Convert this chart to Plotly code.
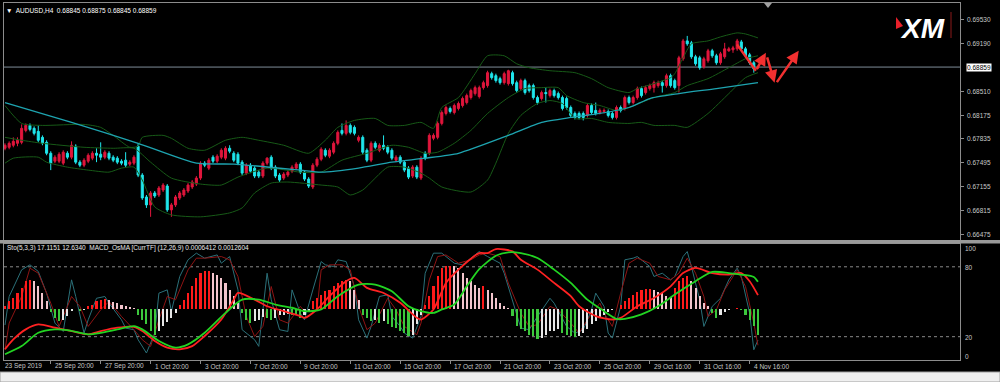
import plotly.graph_objects as go

# ---------------- DATA (AUDUSD, H4) ----------------
# quotes in points (1e-5)
OPEN_PTS = [67702,67716,67745,67773,67787,67957,68028,67986,67943,67858,
67787,67631,67518,67518,67490,67631,67575,67731,67504,67461,
67518,67561,67631,67617,67575,67631,67575,67561,67518,67532,
67476,67490,67731,67320,67008,66895,67065,67036,67107,67164,
66824,66895,66994,67036,67093,67150,67192,67277,67490,67419,
67575,67518,67575,67561,67702,67631,67617,67504,67348,67461,
67419,67362,67306,67490,67575,67433,67320,67277,67320,67376,
67419,67476,67362,67263,67150,67461,67546,67674,67589,67646,
67773,67957,67915,68028,68000,67816,67858,67674,67532,67773,
67674,67745,67716,67674,67532,67575,67504,67419,67306,67433,
67277,67631,67631,67844,67858,68056,68198,68269,68212,68269,
68311,68354,68425,68481,68439,68566,68595,68765,68736,68694,
68637,68623,68779,68637,68552,68666,68595,68595,68425,68411,
68496,68453,68524,68481,68425,68411,68283,68198,68198,68198,
68170,68311,68241,68212,68226,68226,68198,68141,68283,68269,
68425,68354,68425,68552,68496,68552,68566,68595,68637,68595,
68736,68666,68595,68977,69232,69204,69006,68991,68864,68949,
69091,69020,68921,69006,69091,69105,69119,69218,69119,69034,
68921,68845]
HIGH_PTS = [67773,67801,67858,67858,68042,68056,68056,68014,68028,67886,
67816,67660,67603,67646,67674,67660,67801,67759,67532,67561,
67631,67660,67702,67787,67674,67660,67603,67589,67546,67646,
67532,67603,67773,67348,67036,67093,67093,67164,67206,67192,
66923,67036,67093,67136,67206,67249,67306,67518,67518,67561,
67603,67617,67702,67731,67745,67660,67646,67532,67490,67490,
67447,67391,67518,67575,67603,67461,67348,67362,67391,67461,
67504,67504,67391,67291,67490,67575,67716,67702,67702,67801,
67957,68056,68099,68056,68028,67886,67886,67702,67801,67801,
67773,67886,67745,67702,67603,67603,67532,67447,67461,67461,
67589,67660,67915,67915,68085,68241,68311,68297,68340,68368,
68439,68481,68552,68595,68595,68666,68807,68793,68765,68722,
68793,68821,68807,68666,68694,68694,68623,68623,68453,68524,
68566,68552,68552,68510,68453,68439,68311,68226,68226,68226,
68340,68340,68354,68269,68269,68255,68226,68311,68311,68453,
68453,68453,68581,68581,68595,68623,68666,68666,68666,68765,
68765,68694,69020,69261,69303,69232,69034,69020,69006,69119,
69119,69048,69076,69204,69147,69162,69261,69246,69147,69062,
68949,68875]
LOW_PTS = [67674,67688,67716,67731,67759,67929,67943,67886,67787,67745,
67603,67391,67490,67490,67461,67546,67546,67476,67433,67433,
67490,67532,67504,67532,67546,67532,67504,67476,67461,67433,
67447,67461,67291,66966,66852,66725,66994,67008,67079,66796,
66725,66866,66966,67008,67065,67121,67164,67249,67433,67391,
67490,67490,67546,67532,67631,67504,67461,67320,67320,67348,
67277,67277,67277,67461,67391,67277,67221,67249,67291,67348,
67391,67334,67235,67136,67121,67433,67518,67575,67561,67617,
67745,67886,67886,67901,67886,67787,67617,67504,67504,67688,
67646,67674,67617,67532,67504,67476,67362,67263,67277,67263,
67249,67532,67603,67816,67830,68028,68170,68198,68184,68241,
68283,68326,68396,68453,68411,68538,68566,68680,68637,68609,
68609,68595,68595,68496,68524,68467,68496,68396,68326,68382,
68354,68425,68425,68396,68241,68255,68141,68113,68113,68099,
68141,68184,68170,68184,68198,68141,68113,68113,68212,68241,
68326,68326,68396,68425,68467,68524,68496,68566,68496,68566,
68566,68538,68496,68949,69162,68977,68878,68821,68836,68921,
68991,68892,68892,68977,69076,69062,69091,69091,68991,68892,
68779,68845]
CLOSE_PTS = [67745,67773,67801,67816,67986,68028,67971,67915,67816,67773,
67631,67490,67575,67617,67646,67575,67745,67504,67461,67532,
67603,67631,67603,67575,67646,67561,67532,67504,67490,67461,
67504,67575,67320,66994,66895,67065,67022,67136,67178,66824,
66895,67008,67065,67107,67178,67221,67277,67490,67461,67532,
67518,67589,67674,67702,67660,67532,67490,67348,67461,67376,
67306,67306,67490,67561,67419,67306,67249,67334,67362,67433,
67476,67362,67263,67164,67461,67546,67688,67603,67674,67773,
67929,67915,68028,67929,67915,67858,67646,67532,67773,67716,
67745,67702,67646,67561,67575,67504,67391,67291,67433,67291,
67561,67561,67886,67886,68056,68212,68283,68226,68311,68340,
68411,68453,68524,68566,68566,68637,68779,68708,68666,68637,
68765,68807,68623,68524,68666,68496,68524,68425,68354,68496,
68481,68524,68453,68425,68269,68283,68170,68141,68141,68141,
68311,68212,68198,68241,68241,68170,68141,68283,68241,68425,
68354,68425,68552,68453,68566,68595,68637,68637,68595,68736,
68595,68566,68991,69232,69190,69006,68906,68850,68977,69091,
69020,68921,69048,69119,69119,69133,69232,69119,69020,68921,
68836,68859]

# Bollinger bands (20,2) and moving average, read at selected bars
BB_UPPER_BARS = [0,4,9,19,23,26,30,32,33,38,40,44,48,53,57,61,67,73,77,80,84,89,92,96,100,103,105,109,113,116,120,123,126,131,137,141,145,150,152,156,160,161,163,165,169,172,176,178,181]
BB_UPPER_PTS = [68311,68056,68028,68042,68000,67886,67716,67731,67858,67886,67844,67702,67674,67816,67858,67816,67745,67631,67816,68000,68099,68127,68028,68028,68071,67986,68283,68425,68765,69020,69020,68906,68850,68807,68779,68694,68566,68496,68552,68623,68708,68765,68991,69190,69232,69289,69346,69331,69275]
BB_MID_BARS = [0,4,9,19,26,31,35,40,47,52,56,63,71,76,81,87,93,97,101,104,108,112,116,121,125,129,133,135,139,143,147,150,156,161,164,169,174,178,181]
BB_MID_PTS = [67858,67816,67773,67716,67702,67702,67504,67277,67192,67178,67291,67419,67362,67362,67532,67631,67745,67716,67631,67646,67773,67957,68198,68425,68552,68566,68566,68453,68354,68311,68241,68283,68425,68496,68595,68694,68850,68977,69020]
BB_LOW_BARS = [0,2,8,10,15,20,25,28,31,33,36,40,47,54,57,60,64,68,76,80,83,86,92,96,100,102,105,112,116,118,121,124,128,131,134,137,141,145,150,153,156,161,164,169,174,178,181]
BB_LOW_PTS = [67490,67561,67575,67504,67433,67391,67362,67419,67433,67249,66866,66753,66725,66781,66852,67065,67206,67221,67178,67150,67036,67107,67433,67433,67348,67277,67150,67079,67249,67490,67915,68170,68340,68382,68340,68127,68127,68071,68056,68071,68028,68028,68000,68198,68481,68708,68779]
MA_BARS = [0,16,32,46,55,71,76,85,93,101,109,121,129,136,143,150,155,162,171,181]
MA_PTS = [68354,68071,67773,67490,67476,67391,67362,67419,67504,67561,67631,67886,68071,68141,68198,68283,68411,68481,68552,68637]

# Stochastic (5,3,3)
K_BARS = [0,1,4,6,8,10,12,14,16,17,19,20,22,24,25,28,29,31,32,34,36,37,39,40,42,44,46,48,51,52,54,56,57,60,61,63,64,66,68,69,71,72,74,76,77,79,80,82,84,85,87,88,90,92,93,95,96,98,100,101,103,105,108,110,112,114,116,119,120,122,124,126,128,131,132,135,137,139,141,142,144,145,146,148,149,151,152,155,156,158,160,161,163,164,165,167,168,170,172,174,176,177,179,180,181]
K_VALS = [30,54.5,77.4,81.7,76,57.4,31.7,24.5,68.8,54.5,23.1,34.5,53,54.5,48.8,34.5,27.4,26,17.4,6,23.1,57.4,60.2,41.7,71.7,86,91.7,87.4,90.2,83.1,88.8,60.2,26,17.4,11.7,74.5,51.7,26,24.5,60.2,40.2,34.5,60.2,84.5,81.7,80.2,86,84.5,63.1,34.5,18.8,28.8,54.5,56,37.4,28.8,23.1,18.8,37.4,74.5,91.7,91.7,83.1,81.7,87.4,93.1,88.8,83.1,74.5,51.7,27.4,26,37.4,53,48.8,28.8,23.1,26,43.1,57.4,46,23.1,18.8,46,86,87.4,88.8,80.2,71.7,74.5,68.8,71.7,88.8,93.1,80.2,51.7,28.8,46,53,68.8,78.8,71.7,40.2,8.8,17.1151]
D_BARS = [0,1,4,6,8,11,13,16,18,20,23,25,28,31,33,35,37,39,41,44,46,48,52,54,56,58,60,62,64,66,68,71,72,75,76,78,81,83,85,87,89,92,94,96,99,100,102,104,106,109,112,114,116,119,121,124,126,128,131,133,136,138,140,143,144,146,148,150,152,155,157,160,162,164,166,168,169,171,173,176,178,180,181]
D_VALS = [8.8,31.7,54.5,78.8,74.5,48.8,28.8,54.5,46,28.8,43.1,50.2,37.4,26,17.4,11.7,34.5,54.5,51.7,77.4,87.4,87.4,88.8,86,71.7,37.4,20.2,28.8,63.1,34.5,31.7,46,41.7,43.1,77.4,81.7,81.7,77.4,46,26,31.7,53,43.1,28.8,21.7,31.7,68.8,88.8,90.2,83.1,86,90.2,91.7,88.8,66,40.2,28.8,30.3,46,43.1,31.7,23.1,34.5,48.8,40.2,28.8,57.4,83.1,87.4,83.1,71.7,68.8,74.5,87.4,74.5,54.5,37.4,43.1,60.2,77.4,63.1,31.7,12.634]

# MACD_OsMA (12,26,9), in units of 1e-4
MACD_BARS = [0,2,5,8,12,16,20,23,27,31,33,36,39,42,45,48,52,55,56,60,63,67,71,72,75,78,82,84,87,91,95,99,100,103,106,109,114,116,118,122,124,128,132,136,138,142,146,148,152,156,160,163,166,170,174,177,179,181]
MACD_VALS = [-18.9,-14.3,-9.6,-7.3,-8.8,-10.4,-11.9,-10.4,-8.8,-8.4,-10.4,-15.0,-18.1,-18.9,-17.4,-12.7,-5.0,4.3,7.4,4.3,1.2,-1.1,-3.4,-4.2,-0.3,5.9,12.9,14.4,9.8,7.4,2.8,-4.2,-5.0,-0.3,12.1,18.3,26.0,26.0,27.9,26.8,22.9,18.3,12.1,5.9,1.2,-3.4,-5.0,-4.2,1.2,5.1,10.5,16.7,19.1,16.7,16.0,16.7,12.9,6.412]
SIGNAL_BARS = [0,4,8,12,15,20,23,27,31,33,37,41,44,48,53,57,61,65,69,72,76,80,85,89,93,97,100,103,105,108,111,114,118,121,124,128,132,136,140,144,147,149,153,157,161,166,170,174,177,180,181]
SIGNAL_VALS = [-21.2,-17.4,-11.2,-9.6,-9.9,-11.9,-11.2,-9.6,-8.1,-9.6,-15.0,-18.1,-16.6,-11.2,-1.9,4.3,4.3,2.0,0.5,-1.1,-0.3,5.9,11.3,11.3,8.2,1.2,-1.1,-1.9,-0.3,2.0,10.5,18.5,24.8,26.4,26.0,23.7,18.3,12.1,4.3,-1.1,-4.7,-4.7,-2.6,1.2,6.7,12.9,17.2,16.7,16.0,14.9,12.604]
OSMA_VALS = [1.5,3.6,5.1,7.4,9.8,12.9,13.6,12.9,10.6,7.4,
3.6,-1.5,-4.2,-5.7,-5.0,-3.4,-1.1,-0.3,-1.1,-0.6,
1.3,2.0,3.6,4.3,4.7,4.3,3.1,2.8,2.0,1.3,
0.8,0.5,-2.7,-5.0,-7.3,-10.2,-12.0,-10.2,-7.9,-6.0,
-4.2,-1.9,2.0,4.3,7.4,10.6,14.4,16.7,17.5,17.8,
16.7,15.9,14.4,12.1,9.0,5.9,2.8,-1.9,-5.0,-6.5,
-5.7,-5.0,-3.7,-4.2,-5.0,-4.2,-3.1,-2.7,-2.2,-2.7,
-3.1,-4.2,-2.7,-1.1,3.6,5.1,6.6,8.2,9.0,10.6,
12.1,12.9,13.6,12.9,9.0,4.3,-2.7,-4.2,-5.7,-5.0,
-6.5,-5.7,-7.3,-8.4,-8.8,-10.4,-11.2,-12.7,-12.0,-7.3,
-2.7,2.0,5.9,10.6,15.2,19.1,19.9,20.1,19.9,19.1,
16.7,14.4,12.9,11.3,9.8,10.6,9.0,7.4,5.1,2.8,
1.3,0.5,-3.4,-8.0,-9.6,-10.4,-12.0,-12.7,-14.3,-13.5,
-12.0,-10.4,-10.3,-9.6,-11.2,-12.0,-12.7,-13.0,-12.7,-11.2,
-9.6,-7.3,-5.7,-4.2,-2.7,-1.5,-0.6,-0.3,2.0,3.6,
5.1,6.6,7.8,8.7,9.3,9.4,9.0,7.8,7.4,6.2,
5.6,9.8,12.9,14.4,15.2,12.9,9.8,5.9,2.8,1.3,
-1.9,-4.2,-2.7,-1.5,-0.6,-0.3,0.3,-0.6,-2.7,-5.0,
-8.0,-12.0]

DATE_LABELS = ["23 Sep 2019", "25 Sep 20:00", "27 Sep 20:00", "1 Oct 20:00", "3 Oct 20:00",
               "7 Oct 20:00", "9 Oct 20:00", "11 Oct 20:00", "15 Oct 20:00", "17 Oct 20:00",
               "21 Oct 20:00", "23 Oct 20:00", "25 Oct 20:00", "29 Oct 16:00", "31 Oct 16:00",
               "4 Nov 16:00"]
DATE_LABEL_FIRST_BAR = -1      # the first label belongs to the bar just left of the window
DATE_LABEL_STEP = 12           # one label every 12 bars (2 trading days of H4)
PRICE_TICKS = [0.69530, 0.69190, 0.68510, 0.68175, 0.67835, 0.67495, 0.67155, 0.66815, 0.66475]
LAST_PRICE = 0.68859
STO_LEVELS = [80, 20]
HEADER = "AUDUSD,H4  0.68845 0.68875 0.68845 0.68859"
SUB_HEADER = "Sto(5,3,3) 17.1151 12.6340  MACD_OsMA [CurrTF] (12,26,9) 0.0006412 0.0012604"
# hand-drawn forecast arrows: (bar, price) tail -> head
FORECAST = [((175.7, 0.69204), (180.5, 0.68807), False),
            ((180.5, 0.68807), (182.9, 0.69062), True),
            ((183.1, 0.69020), (185.0, 0.68637), True),
            ((185.3, 0.68623), (190.8, 0.69091), True)]

# ---------------- derived ----------------
pts = lambda a: [v / 1e5 for v in a]
BARS = list(range(len(CLOSE_PTS)))
O, Hh, L, C = pts(OPEN_PTS), pts(HIGH_PTS), pts(LOW_PTS), pts(CLOSE_PTS)
TICK_BARS = [DATE_LABEL_FIRST_BAR + DATE_LABEL_STEP * k for k in range(len(DATE_LABELS))]

osma_colors = []
for i, v in enumerate(OSMA_VALS):
    prev = OSMA_VALS[i - 1] if i else v - 1
    if v >= 0:
        osma_colors.append("#ff1a1a" if v > prev else "#f2c4cc")
    else:
        osma_colors.append("#3cc83c" if v < prev else "#e6e6e6")

# ---------------- layout geometry ----------------
W, H = 1000, 382
ML, MR, MT, MB = 4, 40, 3, 22
PW, PH = W - ML - MR, H - MT - MB
def pxx(px): return (px - ML) / PW
def pxy(py): return (H - MB - py) / PH

FONT = "Liberation Sans"
FS = 6.5
BULL, BEAR = "#e0163c", "#1fe6ec"
GRID = "#8c8c8c"
LBL = "#c8c8c8"

XR = [(ML - 5) / 4.16, (W - MR - 5) / 4.16]
def bar_to_paper(b): return (b - XR[0]) / (XR[1] - XR[0])

fig = go.Figure()

# main pane
for bx, by in [(BB_UPPER_BARS, BB_UPPER_PTS), (BB_MID_BARS, BB_MID_PTS), (BB_LOW_BARS, BB_LOW_PTS)]:
    fig.add_trace(go.Scatter(x=bx, y=pts(by), mode="lines",
                             line=dict(color="#175a17", width=1, shape="spline", smoothing=0.6), xaxis="x", yaxis="y"))
fig.add_trace(go.Scatter(x=MA_BARS, y=pts(MA_PTS), mode="lines", line=dict(color="#1ea4b0", width=1.3, shape="spline", smoothing=0.6), xaxis="x", yaxis="y"))
fig.add_trace(go.Candlestick(x=BARS, open=O, high=Hh, low=L, close=C,
                             increasing=dict(line=dict(color=BULL, width=1), fillcolor=BULL),
                             decreasing=dict(line=dict(color=BEAR, width=1), fillcolor=BEAR),
                             whiskerwidth=0, xaxis="x", yaxis="y"))

# lower pane
fig.add_trace(go.Bar(x=BARS, y=OSMA_VALS, marker=dict(color=osma_colors, line=dict(width=0)), width=0.5, xaxis="x2", yaxis="y3"))
fig.add_trace(go.Scatter(x=K_BARS, y=K_VALS, mode="lines", line=dict(color="#2b7079", width=1), xaxis="x2", yaxis="y2"))
fig.add_trace(go.Scatter(x=D_BARS, y=D_VALS, mode="lines", line=dict(color="#8e1414", width=1), xaxis="x2", yaxis="y2"))
fig.add_trace(go.Scatter(x=MACD_BARS, y=MACD_VALS, mode="lines", line=dict(color="#ff2222", width=1.8, shape="spline", smoothing=0.7), xaxis="x2", yaxis="y3"))
fig.add_trace(go.Scatter(x=SIGNAL_BARS, y=SIGNAL_VALS, mode="lines", line=dict(color="#22d422", width=1.8, shape="spline", smoothing=0.7), xaxis="x2", yaxis="y3"))

axis_common = dict(showgrid=False, zeroline=False, showline=True, mirror=True, linecolor=GRID, linewidth=1)

fig.update_layout(
    width=W, height=H, margin=dict(l=ML, r=MR, t=MT, b=MB, autoexpand=False),
    paper_bgcolor="#000000", plot_bgcolor="#000000", showlegend=False, hovermode=False,
    font=dict(family=FONT, size=FS, color=LBL),
    xaxis=dict(domain=[0, 1], anchor="y", range=XR, showticklabels=False, ticks="", automargin=False,
               rangeslider=dict(visible=False), **axis_common),
    yaxis=dict(domain=[pxy(240), 1], anchor="x", side="right", range=[0.66395, 0.69772],
               tickvals=PRICE_TICKS, showticklabels=False, ticks="outside", ticklen=3, tickcolor=GRID,
               automargin=False, **axis_common),
    xaxis2=dict(domain=[0, 1], anchor="y2", matches="x", range=XR, tickvals=TICK_BARS, showticklabels=False,
                ticks="outside", ticklen=3, tickcolor=GRID, automargin=False, **axis_common),
    yaxis2=dict(domain=[0, pxy(243.5)], anchor="x2", range=[0, 100], showticklabels=False, ticks="",
                automargin=False, **axis_common),
    yaxis3=dict(domain=[0, pxy(243.5)], anchor="x2", overlaying="y2", range=[-23.9, 30.5], visible=False),
    bargap=0,
)

shapes = []
# pane separator
shapes.append(dict(type="rect", xref="paper", yref="paper", x0=pxx(0), x1=pxx(W), y0=pxy(243.5), y1=pxy(240), fillcolor="#9a9a9a", line=dict(width=0), layer="above"))
# current price line
shapes.append(dict(type="line", xref="paper", yref="y", x0=0, x1=1, y0=LAST_PRICE, y1=LAST_PRICE, line=dict(color="#7f8c99", width=1), layer="below"))
# stochastic levels
for lv in STO_LEVELS:
    shapes.append(dict(type="line", xref="paper", yref="y2", x0=0, x1=1, y0=lv, y1=lv, line=dict(color="#8a8a8a", width=1, dash="dot"), layer="below"))
# XM logo red wedge and separator
shapes.append(dict(type="path", xref="paper", yref="paper",
                   path=f"M {pxx(896)} {pxy(17)} L {pxx(903)} {pxy(26)} L {pxx(896)} {pxy(29)} Z",
                   fillcolor="#e8202a", line=dict(width=0)))
shapes.append(dict(type="line", xref="paper", yref="paper", x0=pxx(951), x1=pxx(951), y0=pxy(12), y1=pxy(38), line=dict(color="#8b1a1a", width=1)))
# chart shift marker
shapes.append(dict(type="path", xref="paper", yref="paper",
                   path=f"M {pxx(764)} {pxy(3)} L {pxx(772)} {pxy(3)} L {pxx(768)} {pxy(8)} Z",
                   fillcolor="#a0a0a0", line=dict(width=0)))
# bottom window strip
shapes.append(dict(type="rect", xref="paper", yref="paper", x0=pxx(0), x1=pxx(W), y0=pxy(H), y1=pxy(372), fillcolor="#efefef", line=dict(color="#a0a0a0", width=1)))

ann = []
ann.append(dict(xref="paper", yref="paper", x=pxx(4), y=pxy(10), xanchor="left", yanchor="middle", showarrow=False,
                text="▼  " + HEADER, font=dict(family=FONT, size=FS, color="#ffffff")))
ann.append(dict(xref="paper", yref="paper", x=pxx(5), y=pxy(248), xanchor="left", yanchor="middle", showarrow=False,
                text=SUB_HEADER, font=dict(family=FONT, size=FS, color="#e8e8e8")))
# time scale labels (left-aligned at their bar, MT4 style)
for b, lbl in zip(TICK_BARS, DATE_LABELS):
    ann.append(dict(xref="paper", yref="paper", x=bar_to_paper(b), y=pxy(366), xanchor="left", yanchor="middle", xshift=2,
                    showarrow=False, text=lbl, font=dict(family=FONT, size=FS, color=LBL)))
# price scale labels
for p in PRICE_TICKS:
    ann.append(dict(xref="paper", yref="y", x=pxx(965), y=p, xanchor="left", yanchor="middle", showarrow=False,
                    text=f"{p:.5f}", font=dict(family=FONT, size=FS, color=LBL)))
ann.append(dict(xref="paper", yref="y", x=pxx(966), y=LAST_PRICE, xanchor="left", yanchor="middle", showarrow=False,
                text=f"{LAST_PRICE:.5f}", bgcolor="#ffffff", borderpad=0, font=dict(family=FONT, size=FS, color="#000000")))
for lbl, py in [("100", 248), ("80", 267), ("20", 337), ("0", 356)]:
    ann.append(dict(xref="paper", yref="paper", x=pxx(963), y=pxy(py), xanchor="left", yanchor="middle", showarrow=False,
                    text=lbl, font=dict(family=FONT, size=FS, color=LBL)))
ann.append(dict(xref="paper", yref="paper", x=pxx(898), y=pxy(29), xanchor="left", yanchor="middle", showarrow=False,
                text="<b><i>XM</i></b>", font=dict(family=FONT, size=28, color="#ffffff")))
for (tx, ty), (hx, hy), head in FORECAST:
    ann.append(dict(xref="x", yref="y", axref="x", ayref="y", x=hx, y=hy, ax=tx, ay=ty, text="",
                    showarrow=True, arrowhead=2 if head else 0, arrowsize=1, arrowwidth=2.5,
                    arrowcolor="#f23030", standoff=0, startstandoff=0))

fig.update_layout(shapes=shapes, annotations=ann)
fig.write_html("out.html", config={"displayModeBar": False, "staticPlot": True},
               post_script="document.body.style.margin='0';document.body.style.overflow='hidden';")
